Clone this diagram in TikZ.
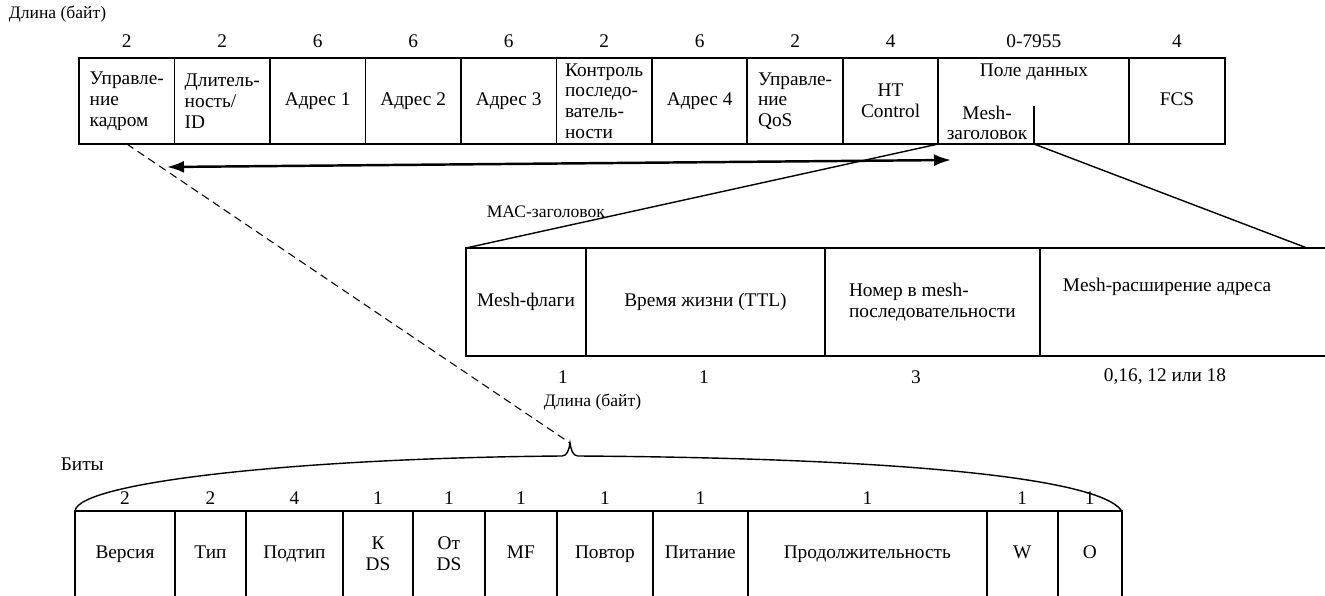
\documentclass[tikz,border=0pt]{standalone}
\usepackage{fontspec}
\setmainfont{Liberation Serif}
\usepackage{tikz}
\usetikzlibrary{arrows.meta, positioning, calc}

\begin{document}
\begin{tikzpicture}[
    x=0.02cm, y=-0.02cm,
    txt/.style={font=\fontsize{11}{11.8}\selectfont, inner sep=2pt},
    lbl/.style={font=\fontsize{10}{11}\selectfont, inner sep=2pt},
    fld/.style={txt, draw, line width=1pt, outer sep=0pt, minimum width=1.91cm,
                minimum height=1.72cm, align=center},
    one/.style={text height=1.55ex, text depth=0.45ex},
    mfld/.style={fld, line width=0.8pt, minimum height=2.16cm},
    num/.style={txt, inner sep=3.7pt},
    dblarrow/.style={{Latex[length=0.34cm,width=0.24cm]}-{Latex[length=0.34cm,width=0.24cm]},
                     line width=1.4pt},
    zoomline/.style={line width=0.8pt},
    dashline/.style={line width=0.6pt, dash pattern=on 0.16cm off 0.1cm}
]
    \clip (0,0) rectangle (1325,595);

    \node[lbl, anchor=west] (lenTop) at (5,14) {Длина (байт)};
    \node[fld, anchor=west, align=left] (fc) at (79,101) {Управле-\\ние\\кадром};
    \node[fld, right=0pt of fc, align=left] (dur) {Длитель-\\ность/\\ID};
    \node[fld, one, right=0pt of dur] (addr1) {Адрес 1};
    \node[fld, one, right=0pt of addr1] (addr2) {Адрес 2};
    \node[fld, one, right=0pt of addr2] (addr3) {Адрес 3};
    \node[fld, right=0pt of addr3, align=left] (seq) {Контроль\\последо-\\ватель-\\ности};
    \node[fld, one, right=0pt of seq] (addr4) {Адрес 4};
    \node[fld, right=0pt of addr4, align=left] (qos) {Управле-\\ние\\QoS};
    \node[fld, right=0pt of qos] (htc) {HT\\Control};
    \node[fld, right=0pt of htc, minimum width=3.82cm] (data) {};
    \node[fld, one, right=0pt of data] (fcs) {FCS};

    \node[num, above=2pt of fc] (nfc) {2};
    \node[num, above=2pt of dur] (ndur) {2};
    \node[num, above=2pt of addr1] (naddr1) {6};
    \node[num, above=2pt of addr2] (naddr2) {6};
    \node[num, above=2pt of addr3] (naddr3) {6};
    \node[num, above=2pt of seq] (nseq) {2};
    \node[num, above=2pt of addr4] (naddr4) {6};
    \node[num, above=2pt of qos] (nqos) {2};
    \node[num, above=2pt of htc] (nhtc) {4};
    \node[num, above=2pt of data] (ndata) {0-7955};
    \node[num, above=2pt of fcs] (nfcs) {4};

    \node[txt] (datalbl) at (1034,72) {Поле данных};
    \node[txt, align=center] (meshhdr) at (987,123) {Mesh-\\заголовок};
    \coordinate (tick) at (1034,106);
    \draw[zoomline] (tick) -- (tick |- data.south);

    \coordinate (macL) at (167,167);
    \coordinate (macR) at (951,160);
    \draw[dblarrow] (macL) -- (macR);
    \node[lbl, anchor=west] (maclbl) at (483,212) {МАС-заголовок};

    \node[mfld, one, anchor=west, minimum width=2.4cm] (mflag) at (466,302) {Mesh-флаги};
    \node[mfld, one, right=0pt of mflag, minimum width=4.78cm] (ttl) {Время жизни (TTL)};
    \node[mfld, right=0pt of ttl, minimum width=4.3cm, align=left] (mseq) {Номер в mesh-\\последовательности};
    \node[mfld, right=0pt of mseq, minimum width=6cm] (mext) {};
    \node[txt] (mextlbl) at (1167,287) {Mesh-расширение адреса};

    \coordinate (mextR) at (1307,248);
    \draw[zoomline] (data.south west) -- (mflag.north west);
    \draw[zoomline] (tick |- data.south) -- (mextR);

    \node[num] (nmflag) at (563,377) {1};
    \node[num] (nttl) at (704,377) {1};
    \node[num] (nmseq) at (916,377) {3};
    \node[num] (nmext) at (1165,377) {0,16, 12 или 18};
    \node[lbl, anchor=west] (lenMesh) at (540,402) {Длина (байт)};

    \node[txt, anchor=west] (bitslbl) at (57,464) {Биты};
    \node[fld, one, anchor=north west, minimum width=2cm] (ver) at (75,511) {Версия};
    \node[fld, one, right=0pt of ver, minimum width=1.42cm] (typ) {Тип};
    \node[fld, one, right=0pt of typ, minimum width=1.94cm] (subtyp) {Подтип};
    \node[fld, right=0pt of subtyp, minimum width=1.4cm] (tods) {К\\DS};
    \node[fld, right=0pt of tods, minimum width=1.44cm] (fromds) {От\\DS};
    \node[fld, one, right=0pt of fromds, minimum width=1.44cm] (mfrag) {MF};
    \node[fld, one, right=0pt of mfrag, minimum width=1.92cm] (retry) {Повтор};
    \node[fld, one, right=0pt of retry, minimum width=1.9cm] (pwr) {Питание};
    \node[fld, one, right=0pt of pwr, minimum width=4.78cm] (durb) {Продолжительность};
    \node[fld, one, right=0pt of durb, minimum width=1.42cm] (wep) {W};
    \node[fld, one, right=0pt of wep, minimum width=1.28cm] (ord) {O};

    \node[num, above=0pt of ver] (nver) {2};
    \node[num, above=0pt of typ] (ntyp) {2};
    \node[num, above=0pt of subtyp] (nsubtyp) {4};
    \node[num, above=0pt of tods] (ntods) {1};
    \node[num, above=0pt of fromds] (nfromds) {1};
    \node[num, above=0pt of mfrag] (nmfrag) {1};
    \node[num, above=0pt of retry] (nretry) {1};
    \node[num, above=0pt of pwr] (npwr) {1};
    \node[num, above=0pt of durb] (ndurb) {1};
    \node[num, above=0pt of wep] (nwep) {1};
    \node[num, above=0pt of ord] (nord) {1};

    \coordinate (braceTip) at (570,443);
    \draw[zoomline] (ver.north west) .. controls (78,482) and (300,458) .. (562,456)
        .. controls (567,456) and (569,450) .. (braceTip)
        .. controls (571,450) and (573,456) .. (578,456)
        .. controls (900,458) and (1100,478) .. (ord.north east);
    \draw[dashline] (fc.south) -- (braceTip);
\end{tikzpicture}
\end{document}
